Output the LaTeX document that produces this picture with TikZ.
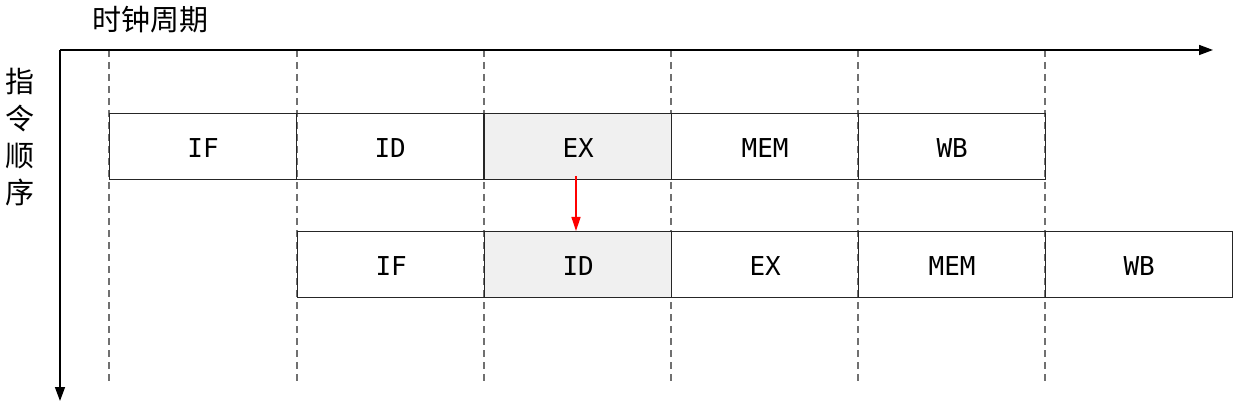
\documentclass[tikz,border=0pt]{standalone}
\usepackage{fontspec}
\setmonofont{DejaVu Sans Mono}
\newfontfamily\cjk{Noto Sans CJK SC}
\usetikzlibrary{arrows.meta}
\definecolor{hl}{HTML}{F0F0F0}
\definecolor{dashc}{HTML}{707070}
\tikzset{
  stage/.style={draw=black!85, line width=1.3pt, minimum width=187pt, minimum height=66pt, inner sep=0pt, font=\fontsize{26}{26}\ttfamily, anchor=north west, text depth=0pt, text height=21pt},
  guide/.style={draw=dashc, line width=1.2pt, dash pattern=on 7pt off 5pt},
  axis/.style={draw=black, line width=1.5pt, -{Triangle[length=14pt,width=10pt]}},
  dep/.style={draw=red, line width=1.3pt, -{Triangle[length=14pt,width=9pt]}},
  lab/.style={font=\cjk\fontsize{29}{29}\selectfont, inner sep=0pt}
}
\begin{document}
\begin{tikzpicture}[x=1pt,y=-1pt]
\useasboundingbox (0,0) rectangle (1242,414);
\coordinate (o) at (60,50);
\coordinate (xe) at (1213,50);
\coordinate (ye) at (60,401);
\foreach \x in {109,297,484,671,858,1045}{
  \coordinate (gt\x) at (\x,50);
  \coordinate (gb\x) at (\x,385);
  \draw[guide] (gt\x) -- (gb\x);
}
\draw[axis] (o) -- (xe);
\draw[axis] (o) -- (ye);
\node[lab] (clk) at (150,20) {时钟周期};
\node[lab, align=center] (ord) at (20,137) {指\\[8pt]令\\[8pt]顺\\[8pt]序};
% row 1
\node[stage] (a1) at (109,113) {IF};
\node[stage] (a2) at (296,113) {ID};
\node[stage, fill=hl] (a3) at (484,113) {EX};
\node[stage] (a4) at (671,113) {MEM};
\node[stage] (a5) at (858,113) {WB};
% row 2
\node[stage] (b1) at (297,231) {IF};
\node[stage, fill=hl] (b2) at (484,231) {ID};
\node[stage] (b3) at (671,231) {EX};
\node[stage] (b4) at (858,231) {MEM};
\node[stage] (b5) at (1045,231) {WB};
\coordinate (ds) at (576,176);
\draw[dep] (ds) -- (ds |- b2.north);
\end{tikzpicture}
\end{document}
